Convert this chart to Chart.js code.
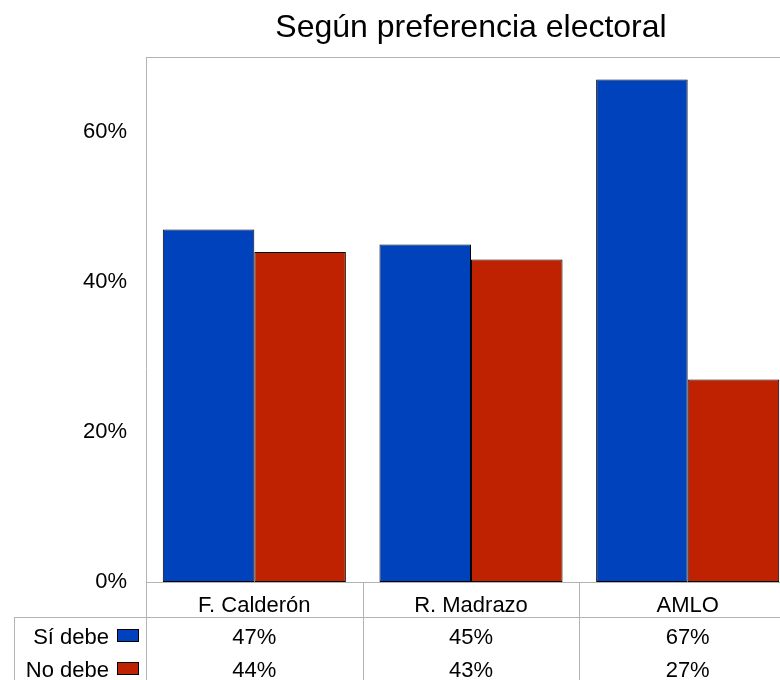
<!DOCTYPE html>
<html>
<head>
<meta charset="utf-8">
<script src="https://cdn.jsdelivr.net/npm/chart.js@4"></script>
<style>
html,body{margin:0;padding:0;background:#fff;overflow:hidden;width:780px;height:680px;}
#wrap{width:800px;height:680px;}
</style>
</head>
<body>
<div id="wrap"><canvas id="c" width="800" height="680"></canvas></div>
<script>
const title = "Según preferencia electoral";
const categories = ["F. Calderón", "R. Madrazo", "AMLO"];
const seriesNames = ["Sí debe", "No debe"];
const siDebe = [47, 45, 67];
const noDebe = [44, 43, 27];
const seriesColors = ["#0042bc", "#bf2200"];
const yTicks = [0, 20, 40, 60];

const FONT = '"Liberation Sans", Arial, sans-serif';
const LINE = '#b3b3b3';

const tablePlugin = {
  id: 'tablePlugin',
  afterDraw(chart) {
    const ctx = chart.ctx;
    const a = chart.chartArea;
    const x = chart.scales.x;
    const n = categories.length;
    const step = (a.right - a.left) / n;
    const rowTop = a.bottom + 35;
    const H = chart.height;
    ctx.save();
    ctx.fillStyle = '#000';
    ctx.font = '32px ' + FONT;
    ctx.textAlign = 'center';
    ctx.textBaseline = 'alphabetic';
    ctx.fillText(title, (a.left + a.right) / 2, 37);

    ctx.strokeStyle = LINE;
    ctx.lineWidth = 1;
    ctx.beginPath();
    ctx.moveTo(a.left, Math.round(a.top) + 0.5);
    ctx.lineTo(a.right, Math.round(a.top) + 0.5);
    ctx.moveTo(Math.round(a.left) + 0.5, a.top);
    ctx.lineTo(Math.round(a.left) + 0.5, H);
    ctx.moveTo(a.left, Math.round(a.bottom) + 0.5);
    ctx.lineTo(a.right, Math.round(a.bottom) + 0.5);
    ctx.moveTo(14, Math.round(rowTop) + 0.5);
    ctx.lineTo(a.right, Math.round(rowTop) + 0.5);
    ctx.moveTo(14.5, rowTop);
    ctx.lineTo(14.5, H);
    for (let i = 1; i <= n; i++) {
      const bx = Math.round(a.left + step * i) + 0.5;
      ctx.moveTo(bx, a.bottom);
      ctx.lineTo(bx, H);
    }
    ctx.stroke();

    ctx.font = '22px ' + FONT;
    ctx.fillStyle = '#000';
    ctx.textAlign = 'center';
    const series = [siDebe, noDebe];
    categories.forEach((c, i) => {
      const cx = x.getPixelForValue(i);
      ctx.fillText(c, cx, a.bottom + 30);
      series.forEach((s, j) => {
        ctx.fillText(s[i] + '%', cx, rowTop + 27 + j * 33);
      });
    });
    seriesNames.forEach((name, j) => {
      const by = rowTop + 27 + j * 33;
      ctx.textAlign = 'right';
      ctx.fillStyle = '#000';
      ctx.fillText(name, 109, by);
      ctx.fillStyle = seriesColors[j];
      ctx.fillRect(117, by - 15, 22, 13);
      ctx.strokeStyle = '#000';
      ctx.strokeRect(117.5, by - 14.5, 21, 12);
    });
    ctx.restore();
  }
};

new Chart(document.getElementById('c'), {
  type: 'bar',
  data: {
    labels: categories,
    datasets: [
      { label: seriesNames[0], data: siDebe, backgroundColor: seriesColors[0], borderColor: '#000', borderWidth: 1, borderSkipped: false, barPercentage: 1.0, categoryPercentage: 0.845 },
      { label: seriesNames[1], data: noDebe, backgroundColor: seriesColors[1], borderColor: '#000', borderWidth: 1, borderSkipped: false, barPercentage: 1.0, categoryPercentage: 0.845 }
    ]
  },
  options: {
    responsive: false,
    animation: false,
    layout: { padding: { top: 57, bottom: 98, right: 4, left: 0 } },
    plugins: { legend: { display: false }, title: { display: false }, tooltip: { enabled: false } },
    scales: {
      x: { display: false },
      y: {
        min: 0, max: 70,
        afterFit(s) { s.width = 146; },
        afterBuildTicks(s) { s.ticks = yTicks.map(v => ({ value: v })); },
        grid: { display: false, drawTicks: false },
        border: { display: false },
        ticks: { padding: 19, color: '#000', font: { family: FONT, size: 22 }, callback: v => v + '%' }
      }
    }
  },
  plugins: [tablePlugin]
});
</script>
</body>
</html>
